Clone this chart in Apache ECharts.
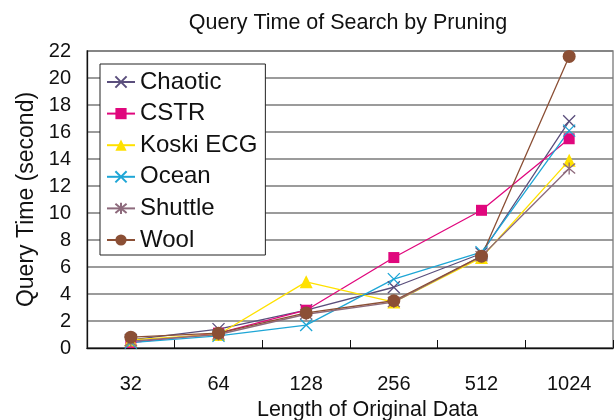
<!DOCTYPE html>
<html>
<head>
<meta charset="utf-8">
<script src="https://cdn.jsdelivr.net/npm/echarts@6/dist/echarts.min.js"></script>
<style>
    html, body { margin: 0; padding: 0; background: #fff; }
    #chart { width: 616px; height: 420px; }
</style>
</head>
<body>
<div id="chart"></div>
<script>
    // data
    var lengths = ['32', '64', '128', '256', '512', '1024'];
    var chaotic = [0.6, 1.4, 2.8, 4.5, 7.0, 16.8];
    var cstr = [0.4, 1.1, 2.8, 6.7, 10.2, 15.5];
    var koski = [0.6, 1.0, 4.9, 3.4, 6.7, 13.9];
    var ocean = [0.4, 0.9, 1.7, 5.1, 7.1, 16.1];
    var shuttle = [0.5, 1.0, 2.5, 3.4, 6.8, 13.3];
    var wool = [0.8, 1.1, 2.6, 3.5, 6.8, 21.6];

    var crossPath = 'path://M0,0L10,10M10,0L0,10';
    var starPath = 'path://M0,0L10,10M10,0L0,10M5,-1L5,11';
    var font = 'Liberation Sans';

    function mkSeries(name, data, color, symbol, size, stroke) {
        return {
            name: name,
            type: 'line',
            data: data,
            symbol: symbol,
            symbolSize: size,
            lineStyle: { color: color, width: 1.3 },
            itemStyle: stroke
                ? { color: 'rgba(0,0,0,0)', borderColor: color, borderWidth: 1.3 }
                : { color: color, borderWidth: 0 },
            emphasis: { disabled: true },
            animation: false
        };
    }

    var chart = echarts.init(document.getElementById('chart'));
    chart.setOption({
        animation: false,
        textStyle: { fontFamily: font },
        title: {
            text: 'Query Time of Search by Pruning',
            left: 343,
            textAlign: 'center',
            top: 7,
            textStyle: { fontFamily: font, fontSize: 21.5, fontWeight: 'normal', color: '#111' }
        },
        grid: {
            left: 87, right: 3, top: 51, bottom: 72,
            outerBoundsMode: 'none',
            containLabel: false,
            show: true, borderColor: '#8a8a8a', borderWidth: 1.5
        },
        legend: {
            orient: 'vertical',
            left: 100, top: 64,
            padding: [6, 8, 3, 6],
            itemGap: 7.6,
            itemWidth: 28,
            itemHeight: 14,
            backgroundColor: '#fff',
            borderColor: '#222',
            borderWidth: 1,
            textStyle: { fontFamily: font, fontSize: 24, color: '#111' }
        },
        xAxis: {
            type: 'category',
            data: lengths,
            boundaryGap: true,
            name: 'Length of Original Data',
            nameLocation: 'middle',
            nameGap: 47,
            nameTextStyle: { fontFamily: font, fontSize: 21.5, color: '#111', padding: [0, 0, 0, 35] },
            axisLine: { lineStyle: { color: '#111', width: 1.3 } },
            axisTick: { show: true, inside: true, length: 8, lineStyle: { color: '#111' } },
            axisLabel: { fontSize: 20, color: '#111', margin: 26 }
        },
        yAxis: {
            type: 'value',
            min: 0, max: 22, interval: 2,
            name: 'Query Time (second)',
            nameLocation: 'middle',
            nameGap: 48,
            nameTextStyle: { fontFamily: font, fontSize: 23, color: '#111' },
            axisLine: { show: true, lineStyle: { color: '#111', width: 1.3 } },
            axisTick: { show: false },
            axisLabel: { fontSize: 20, color: '#111', margin: 16 },
            splitLine: { lineStyle: { color: '#7a7a7a', width: 1.5 } }
        },
        series: [
            mkSeries('Chaotic', chaotic, '#5a4e7c', crossPath, 12, true),
            mkSeries('CSTR', cstr, '#e0077d', 'rect', 11, false),
            mkSeries('Koski ECG', koski, '#ffe100', 'triangle', 13, false),
            mkSeries('Ocean', ocean, '#1ea6d6', crossPath, 12, true),
            mkSeries('Shuttle', shuttle, '#8d6a7c', starPath, 12, true),
            mkSeries('Wool', wool, '#8b4f35', 'circle', 13, false)
        ]
    });
</script>
</body>
</html>
